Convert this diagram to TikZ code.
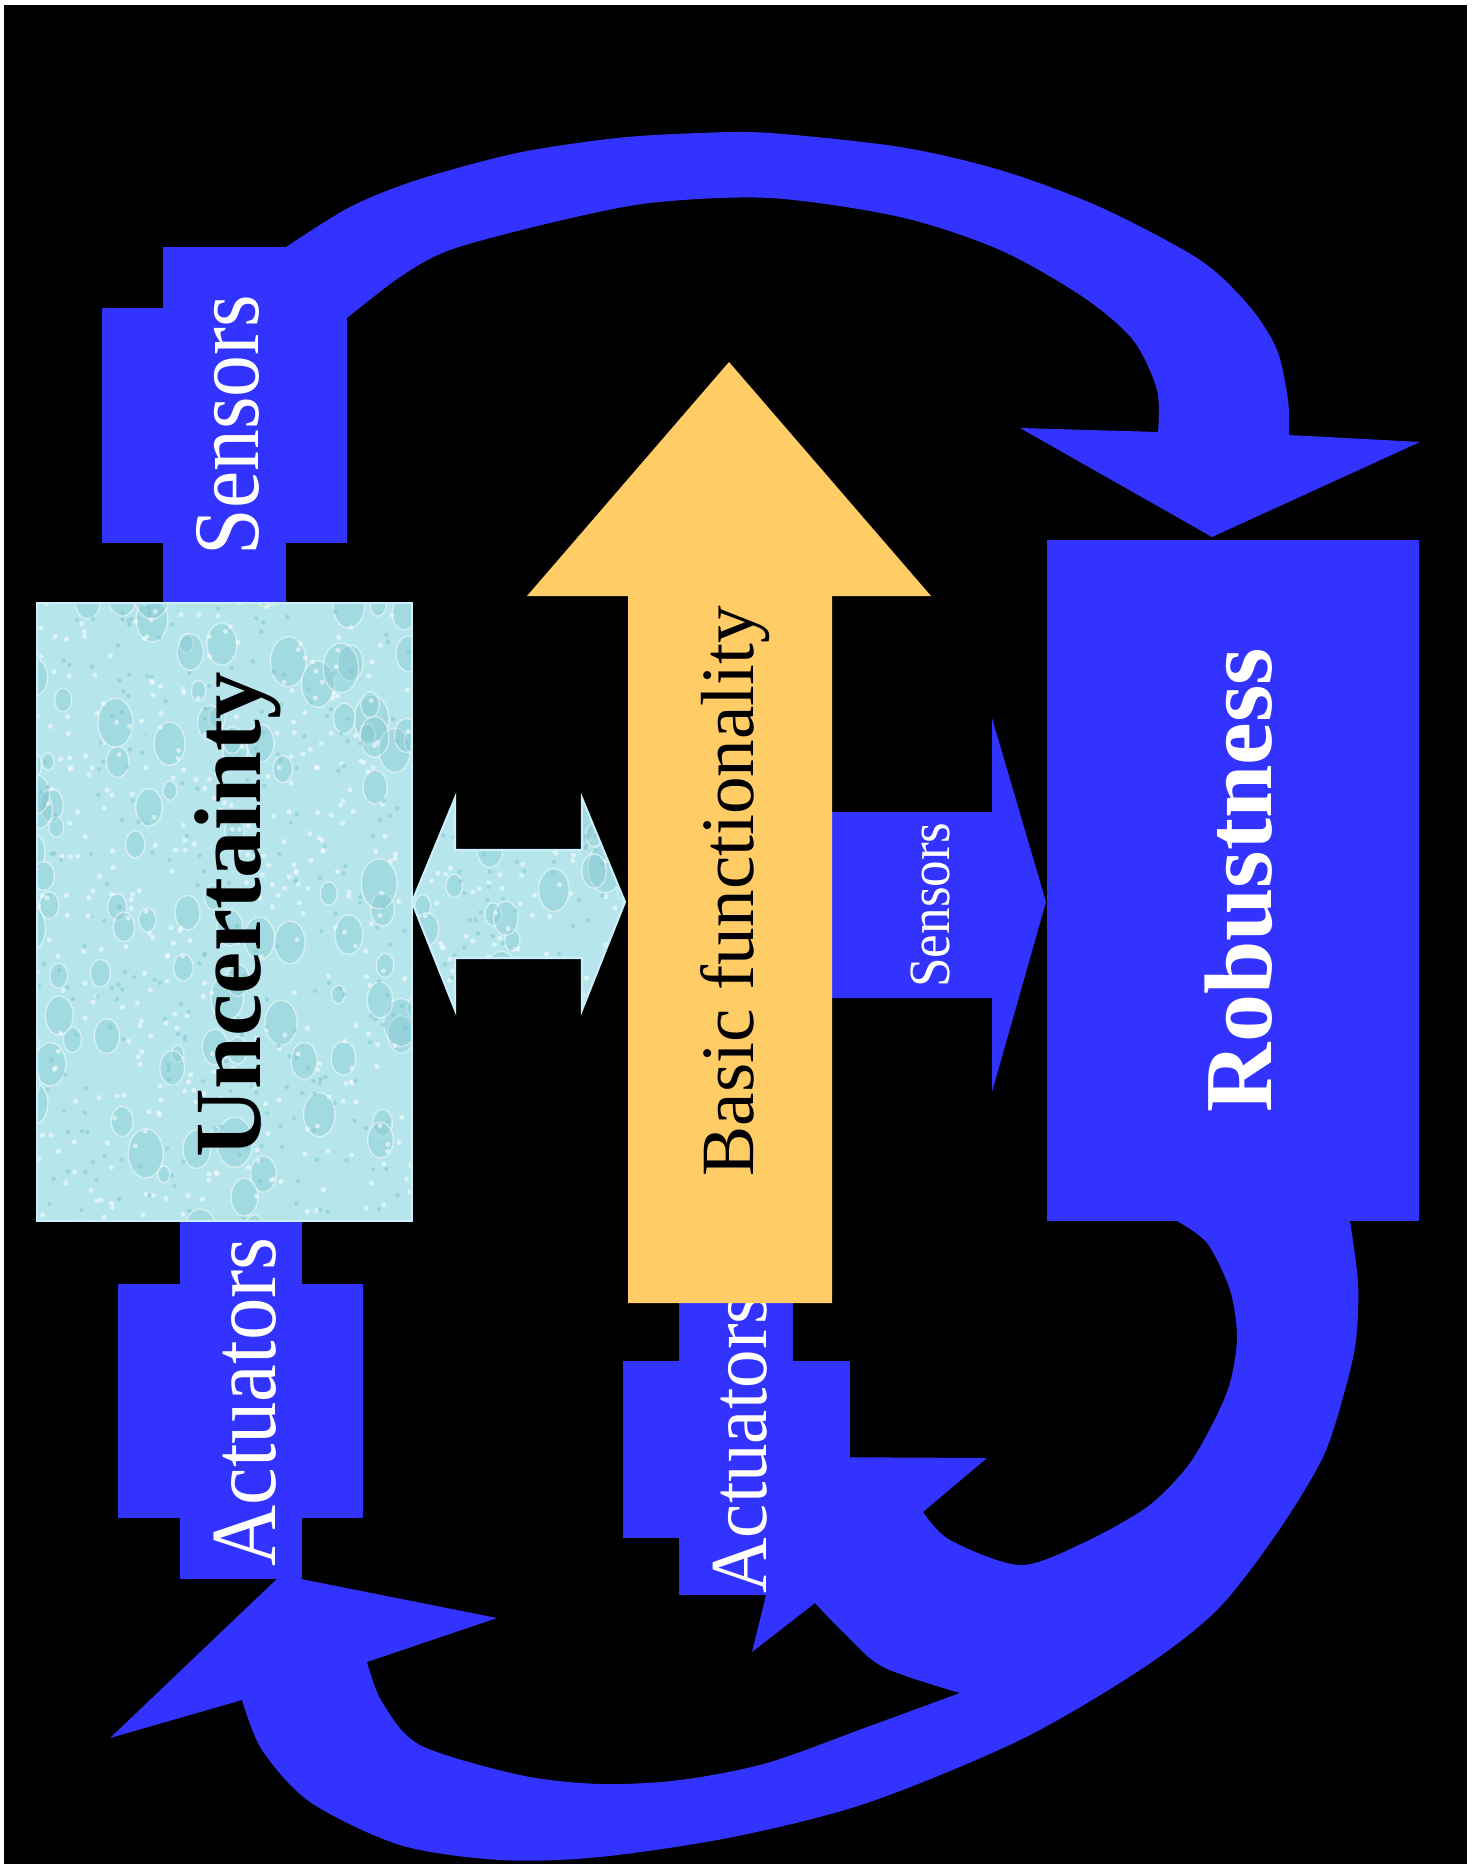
\documentclass[tikz,border=0pt]{standalone}
\usepackage{fontspec}
\usepackage{graphicx}
\setmainfont{Liberation Serif}
\definecolor{bluefill}{HTML}{3333FF}
\definecolor{yellowfill}{HTML}{FFCC66}
\definecolor{cyanbase}{HTML}{B6E6EC}
\definecolor{cyandark}{HTML}{7FC4CF}
\tikzset{
  bshape/.style={fill=bluefill},
  wlabel/.style={text=white, rotate=90, inner sep=0pt},
  klabel/.style={text=black, rotate=90, inner sep=0pt},
}
\newcommand{\texturein}[2]{%
  \pgfmathsetseed{#2}%
  \foreach \i in {1,...,#1}{%
    \pgfmathsetmacro\xx{rnd}%
    \pgfmathsetmacro\yy{rnd}%
    \pgfmathsetmacro\rr{6+12*rnd}%
    \fill[cyandark, opacity=0.35] (\xx*640+20,\yy*660+590) ellipse [x radius=\rr*0.01cm, y radius=\rr*0.014cm];
    \draw[white, opacity=0.5, line width=0.4pt] (\xx*640+20,\yy*660+590) ellipse [x radius=\rr*0.01cm, y radius=\rr*0.014cm];
  }%
  \foreach \i in {1,...,700}{%
    \pgfmathsetmacro\xx{rnd}%
    \pgfmathsetmacro\yy{rnd}%
    \fill[white, opacity=0.55] (\xx*640+20,\yy*660+590) circle [radius=0.025cm];
  }%
  \foreach \i in {1,...,500}{%
    \pgfmathsetmacro\xx{rnd}%
    \pgfmathsetmacro\yy{rnd}%
    \fill[cyandark, opacity=0.5] (\xx*640+20,\yy*660+590) circle [radius=0.022cm];
  }%
}
\begin{document}
\begin{tikzpicture}[x=0.01cm, y=-0.01cm]
\useasboundingbox (0,0) rectangle (1478,1864);
\fill[white] (0,0) rectangle (1478,1864);
\fill[black] (4,5) rectangle (1467,1864);

% top arc Sensors -> Robustness
\fill[bshape]
 plot[smooth] coordinates {(286,247) (350,207) (417,180) (517,153) (617,138) (700,133) (770,133) (900,147) (1000,170) (1100,207) (1200,260) (1250,307) (1277,350) (1288,400) (1289,435)}
 -- (1420,442) -- (1212,537) -- (1020,428) -- (1158,432)
 -- plot[smooth] coordinates {(1158,432) (1157,390) (1133,340) (1083,297) (1000,250) (900,217) (770,198) (650,203) (550,223) (450,250) (400,277) (347,318)}
 -- (286,318) -- cycle;

% bottom arcs Robustness -> Actuators
\fill[bshape]
 plot[smooth] coordinates {(1350,1221) (1358,1283) (1356,1340) (1345,1390) (1323,1457) (1277,1533) (1217,1610) (1140,1670) (1020,1740) (867,1803) (733,1837) (600,1857) (500,1860) (400,1845) (310,1802) (262,1750) (242,1700)}
 -- (110,1738) -- (281,1575) -- (497,1618) -- (367,1662)
 -- plot[smooth] coordinates {(367,1662) (382,1702) (420,1745) (520,1775) (600,1784) (680,1780) (767,1763) (867,1727) (960,1693)}
 -- plot[smooth] coordinates {(960,1693) (883,1667) (843,1632) (815,1603)}
 -- (752,1652) -- (800,1457) -- (987,1458) -- (923,1512)
 -- plot[smooth] coordinates {(923,1512) (950,1540) (1020,1565) (1083,1543) (1147,1507) (1187,1467) (1213,1423) (1230,1383) (1237,1337) (1230,1290) (1207,1243) (1177,1221)}
 -- cycle;

% sensors / actuators blocks
\fill[bshape] (163,247) rectangle (286,603);
\fill[bshape] (102,308) rectangle (347,543);
\fill[bshape] (180,1221) rectangle (302,1579);
\fill[bshape] (118,1284) rectangle (363,1518);
\fill[bshape] (679,1303) rectangle (793,1595);
\fill[bshape] (623,1361) rectangle (850,1538);

% middle sensors arrow
\fill[bshape] (832,812) -- (992,812) -- (992,718) -- (1046,902) -- (992,1092) -- (992,998) -- (832,998) -- cycle;

% robustness box
\fill[bshape] (1047,540) rectangle (1419,1221);

% uncertainty box + double arrow (textured)
\begin{scope}
\clip (37,603) rectangle (412,1221)
      (412,902) -- (455,798) -- (455,850) -- (582,850) -- (582,798) -- (625,902) -- (582,1010) -- (582,958) -- (455,958) -- (455,1010) -- cycle;
\fill[cyanbase] (30,590) rectangle (640,1230);
\texturein{170}{11}
\end{scope}
\draw[white!80!cyan, line width=0.8pt] (37,603) rectangle (412,1221);
\draw[white!80!cyan, line width=0.6pt] (412,902) -- (455,798) -- (455,850) -- (582,850) -- (582,798) -- (625,902) -- (582,1010) -- (582,958) -- (455,958) -- (455,1010) -- cycle;

% middle actuators label (partly under the yellow arrow)
\node[wlabel, font=\fontsize{21.9}{22}\selectfont] (act2) at (740,1444) {\scalebox{1}[1.05]{Actuators}};

% basic functionality arrow
\fill[yellowfill] (628,1303) -- (628,596) -- (527,596) -- (729,362) -- (931,596) -- (832,596) -- (832,1303) -- cycle;

% labels
\node[wlabel, font=\fontsize{23.8}{24}\selectfont] (sens1) at (228,425) {\scalebox{1}[1.12]{Sensors}};
\node[wlabel, font=\fontsize{24.1}{25}\selectfont] (act1) at (245,1402) {\scalebox{1}[1.1]{Actuators}};
\node[wlabel, font=\fontsize{15.1}{16}\selectfont] (sens2) at (930,905) {\scalebox{1}[1.1]{Sensors}};
\node[klabel, font=\fontsize{21.4}{22}\selectfont] (basic) at (735,891) {Basic functionality};
\node[klabel, font=\bfseries\fontsize{27}{28}\selectfont] (unc) at (238,915) {Uncertainty};
\node[wlabel, font=\bfseries\fontsize{27.3}{28}\selectfont] (rob) at (1239,880) {Robustness};
\end{tikzpicture}
\end{document}
